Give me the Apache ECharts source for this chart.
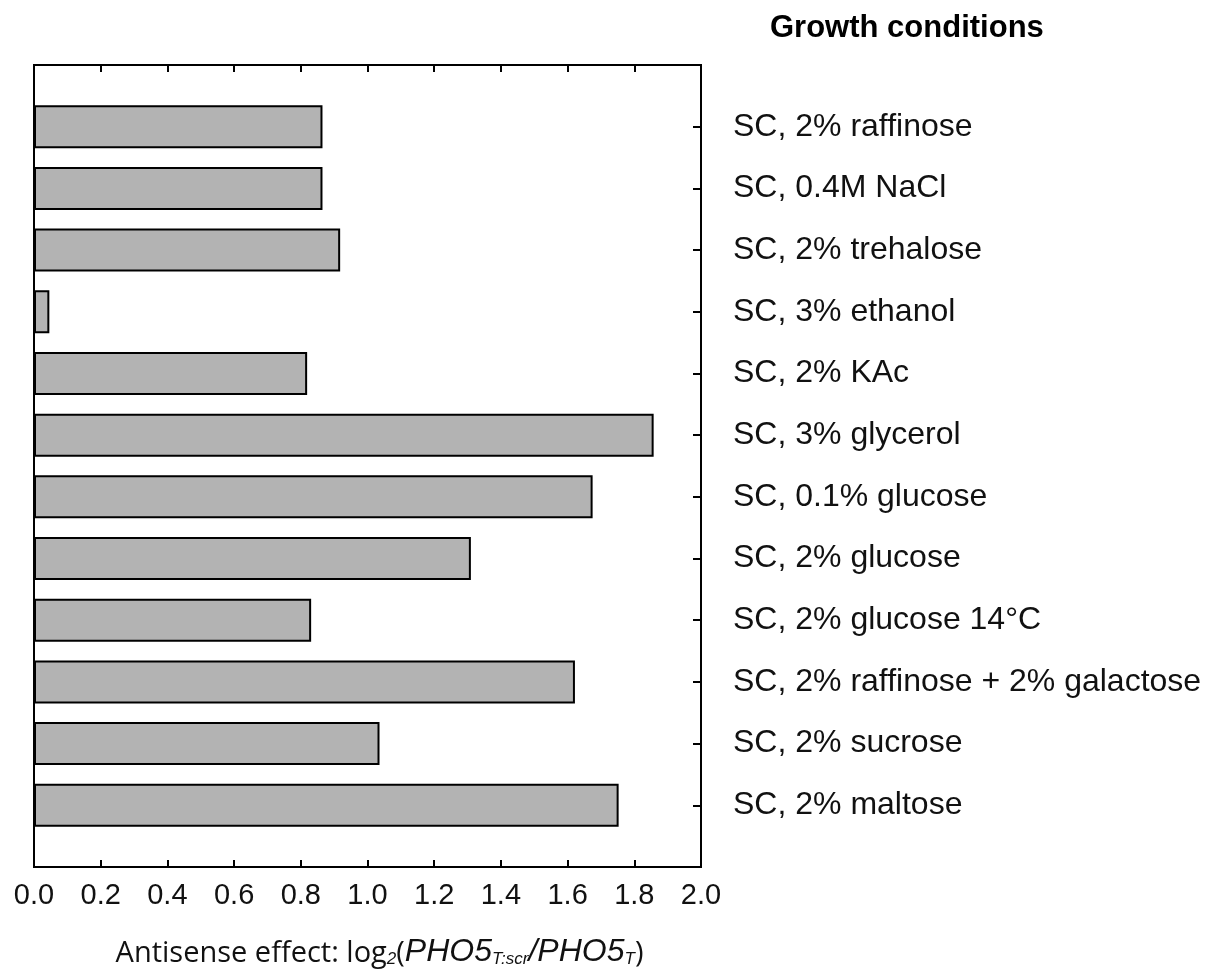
<!DOCTYPE html>
<html>
<head>
<meta charset="utf-8">
<script src="https://cdn.jsdelivr.net/npm/echarts@6/dist/echarts.min.js"></script>
<style>
  html, body { margin: 0; padding: 0; background: #fff; }
  #chart { width: 1210px; height: 974px; }
</style>
</head>
<body>
<div id="chart"></div>
<script>
// conditions, top to bottom
const conditions = [
  'SC, 2% raffinose',
  'SC, 0.4M NaCl',
  'SC, 2% trehalose',
  'SC, 3% ethanol',
  'SC, 2% KAc',
  'SC, 3% glycerol',
  'SC, 0.1% glucose',
  'SC, 2% glucose',
  'SC, 2% glucose 14°C',
  'SC, 2% raffinose + 2% galactose',
  'SC, 2% sucrose',
  'SC, 2% maltose'
];
const antisenseEffect = [0.865, 0.865, 0.918, 0.046, 0.819, 1.858, 1.675, 1.310, 0.831, 1.622, 1.036, 1.753];
const xTicks = ['0.0', '0.2', '0.4', '0.6', '0.8', '1.0', '1.2', '1.4', '1.6', '1.8', '2.0'];

const chart = echarts.init(document.getElementById('chart'));

// empty slot at each end so the bars sit half a step off the frame
const yData = [''].concat(conditions, ['']);
const barData = [null].concat(antisenseEffect, [null]);

const labelFont = 'Liberation Sans, Arial, sans-serif';

const option = {
  animation: false,
  title: {
    text: 'Growth conditions',
    left: 765,
    top: 8,
    textStyle: { fontFamily: labelFont, fontSize: 31, fontWeight: 'bold', color: '#000' }
  },
  grid: {
    left: 34, right: 509, top: 65, bottom: 107,
    show: true, borderColor: '#000', borderWidth: 2, backgroundColor: 'transparent'
  },
  xAxis: [
    {
      type: 'value', position: 'bottom', min: 0, max: 2, interval: 0.2,
      splitLine: { show: false },
      axisLine: { show: true, onZero: false, lineStyle: { color: '#000', width: 2 } },
      axisTick: { show: true, inside: true, length: 7, lineStyle: { color: '#000', width: 2 } },
      axisLabel: {
        margin: 14, fontFamily: labelFont, fontSize: 29, color: '#111',
        formatter: (v) => xTicks[Math.round(v / 0.2)]
      },
      name: '{a|Antisense effect: log}{s|2}{a|(}{i|PHO5}{s|T:scr}{i|/PHO5}{s|T}{a|)}',
      nameLocation: 'middle',
      nameGap: 63,
      nameTextStyle: {
        padding: [0, 0, 0, 24],
        rich: {
          a: { fontFamily: 'Open Sans, sans-serif', fontSize: 29, color: '#111', verticalAlign: 'bottom', lineHeight: 38 },
          i: { fontFamily: 'Liberation Sans, Arial, sans-serif', fontStyle: 'italic', fontSize: 32, color: '#111', verticalAlign: 'bottom', lineHeight: 38 },
          s: { fontFamily: 'Liberation Sans, Arial, sans-serif', fontStyle: 'italic', fontSize: 17, color: '#111', verticalAlign: 'bottom', lineHeight: 26 }
        }
      }
    },
    {
      type: 'value', position: 'top', min: 0, max: 2, interval: 0.2,
      splitLine: { show: false },
      axisLine: { show: true, onZero: false, lineStyle: { color: '#000', width: 2 } },
      axisTick: { show: true, inside: true, length: 7, lineStyle: { color: '#000', width: 2 } },
      axisLabel: { show: false }
    }
  ],
  yAxis: {
    type: 'category',
    data: yData,
    inverse: true,
    position: 'right',
    boundaryGap: false,
    axisLine: { show: true, onZero: false, lineStyle: { color: '#000', width: 2 } },
    axisTick: { show: true, inside: true, length: 8, lineStyle: { color: '#000', width: 2 } },
    axisLabel: { margin: 32, padding: [4, 0, 0, 0], fontFamily: labelFont, fontSize: 32, color: '#111', interval: 0 },
    splitLine: { show: false }
  },
  series: [
    {
      type: 'bar',
      data: barData,
      barWidth: 43,
      itemStyle: { color: '#b3b3b3', borderColor: '#000', borderWidth: 2 }
    }
  ]
};

chart.setOption(option);
</script>
</body>
</html>
